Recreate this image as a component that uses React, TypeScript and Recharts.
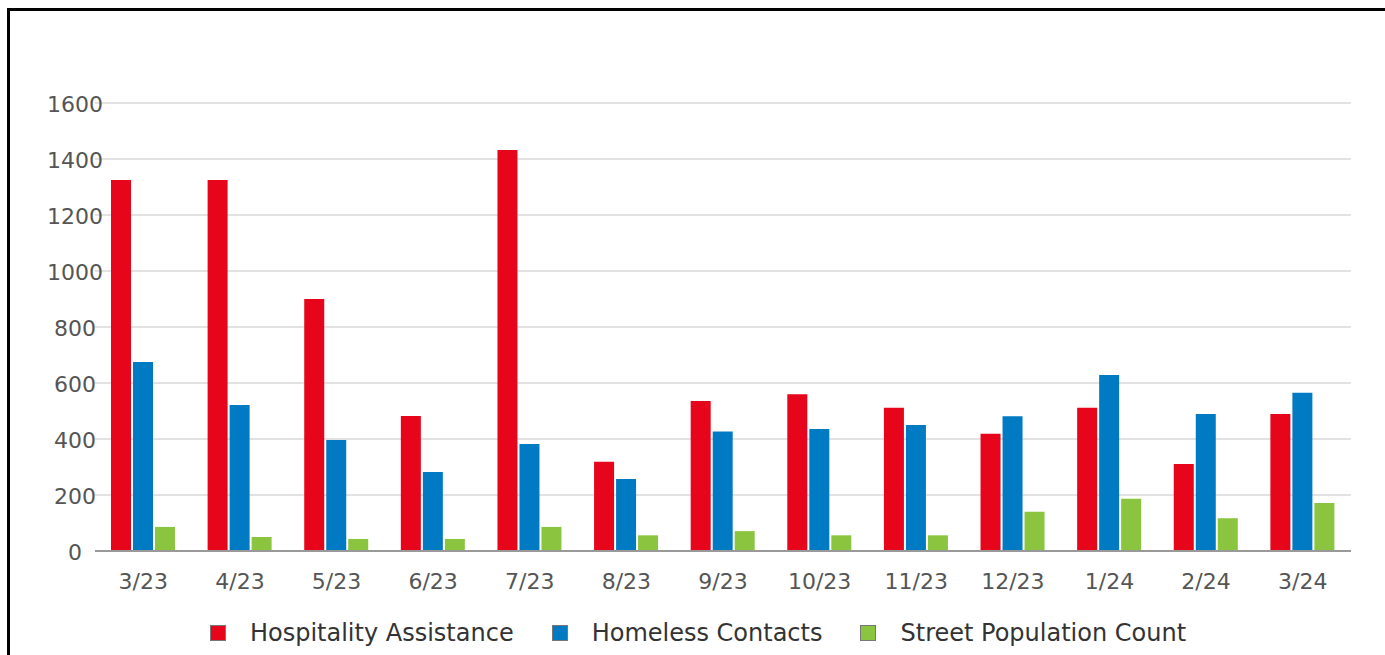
import React from 'react';
import { BarChart, Bar, XAxis, YAxis, CartesianGrid } from 'recharts';

const categories = ['3/23', '4/23', '5/23', '6/23', '7/23', '8/23', '9/23', '10/23', '11/23', '12/23', '1/24', '2/24', '3/24'];
const hospitality = [1325, 1325, 900, 482, 1432, 319, 536, 560, 512, 419, 512, 311, 489];
const homeless = [675, 521, 396, 282, 382, 257, 427, 436, 450, 481, 629, 489, 565];
const street = [86, 50, 43, 43, 86, 56, 71, 56, 56, 140, 187, 117, 171];
const yTicks = [0, 200, 400, 600, 800, 1000, 1200, 1400, 1600];

const seriesNames = ['Hospitality Assistance', 'Homeless Contacts', 'Street Population Count'];
const seriesKeys = ['hospitality', 'homeless', 'street'];
const seriesColors = ['#E6051B', '#007AC2', '#8BC43F'];

const data = categories.map((c, i) => ({
  cat: c,
  hospitality: hospitality[i],
  homeless: homeless[i],
  street: street[i],
}));

const FONT = '"DejaVu Sans", sans-serif';

const XTick = (props: any) => {
  const { x, y, payload } = props;
  return (
    <text x={x} y={y + 38} textAnchor="middle" fontFamily={FONT} fontSize={22} fill="#555">
      {payload.value}
    </text>
  );
};

const YTick = (props: any) => {
  const { x, y, payload } = props;
  return (
    <text x={x - 20} y={y + 8.5} textAnchor="middle" fontFamily={FONT} fontSize={22} fill="#555">
      {payload.value}
    </text>
  );
};

export default function App() {
  return (
    <div style={{ position: 'fixed', left: 0, top: 0, right: 0, bottom: 0, overflow: 'hidden', background: '#fff' }}>
      <div
        style={{
          position: 'absolute',
          left: 7,
          top: 8,
          width: 1420,
          height: 720,
          border: '3px solid #000',
          boxSizing: 'border-box',
        }}
      >
        <div style={{ position: 'absolute', left: 0, top: 0 }}>
          <BarChart
            width={1374}
            height={600}
            data={data}
            margin={{ top: 92, right: 33, bottom: 30, left: 0 }}
            barSize={20}
            barGap={2}
          >
            <CartesianGrid vertical={false} stroke="#e2e2e2" strokeWidth={2} />
            <XAxis
              dataKey="cat"
              height={30}
              interval={0}
              tickSize={0}
              tickMargin={0}
              tickLine={false}
              axisLine={{ stroke: '#999', strokeWidth: 2 }}
              tick={<XTick />}
            />
            <YAxis
              width={85}
              domain={[0, 1600]}
              ticks={yTicks}
              interval={0}
              tickSize={0}
              tickMargin={0}
              tickLine={false}
              axisLine={false}
              tick={<YTick />}
            />
            {seriesKeys.map((k, i) => (
              <Bar key={k} dataKey={k} name={seriesNames[i]} fill={seriesColors[i]} isAnimationActive={false} />
            ))}
          </BarChart>
        </div>
        <div
          style={{
            position: 'absolute',
            left: 0,
            top: 607,
            width: 1376,
            height: 30,
            display: 'flex',
            alignItems: 'center',
            justifyContent: 'center',
            fontFamily: FONT,
            fontSize: 24,
            color: '#333',
          }}
        >
          {seriesNames.map((n, i) => (
            <div key={n} style={{ display: 'flex', alignItems: 'center', marginRight: i < seriesNames.length - 1 ? 38 : 0 }}>
              <div
                style={{
                  width: 14,
                  height: 14,
                  background: seriesColors[i],
                  border: '1px solid #777',
                  marginRight: 24,
                }}
              />
              <span style={{ whiteSpace: 'nowrap' }}>{n}</span>
            </div>
          ))}
        </div>
      </div>
    </div>
  );
}
